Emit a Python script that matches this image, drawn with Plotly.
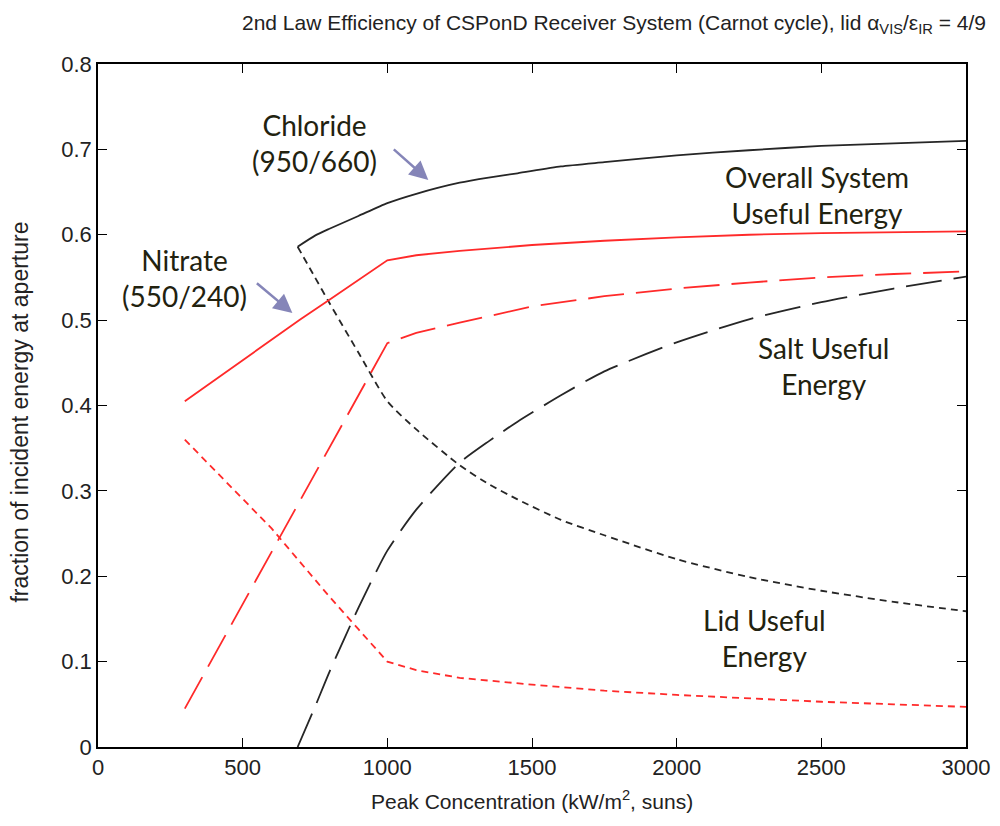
import plotly.graph_objects as go

# ---------------- data ----------------
nitrate_x = [300, 400, 500, 600, 700, 800, 900, 1000, 1100, 1250, 1500, 1750, 2000, 2250, 2500, 2750, 3000]
nitrate_overall = [0.405, 0.429, 0.453, 0.478, 0.501, 0.524, 0.547, 0.570, 0.576, 0.581, 0.588, 0.593, 0.597, 0.600, 0.602, 0.603, 0.604]
nitrate_salt = [0.045, 0.106, 0.167, 0.228, 0.289, 0.350, 0.411, 0.473, 0.485, 0.497, 0.516, 0.528, 0.537, 0.544, 0.550, 0.554, 0.557]
nitrate_lid = [0.360, 0.325, 0.290, 0.256, 0.216, 0.176, 0.138, 0.100, 0.090, 0.081, 0.073, 0.066, 0.061, 0.057, 0.053, 0.050, 0.047]

chloride_x = [690, 750, 800, 900, 1000, 1100, 1250, 1350, 1450, 1600, 1750, 2000, 2250, 2500, 2750, 3000]
chloride_overall = [0.586, 0.599, 0.607, 0.622, 0.637, 0.648, 0.661, 0.667, 0.672, 0.680, 0.685, 0.693, 0.699, 0.704, 0.707, 0.710]
chloride_salt = [0.000, 0.047, 0.088, 0.163, 0.230, 0.278, 0.333, 0.358, 0.381, 0.412, 0.440, 0.474, 0.501, 0.521, 0.537, 0.551]
chloride_lid = [0.586, 0.550, 0.520, 0.462, 0.405, 0.372, 0.330, 0.308, 0.290, 0.266, 0.248, 0.220, 0.199, 0.183, 0.170, 0.159]

x_ticks = [0, 500, 1000, 1500, 2000, 2500, 3000]
y_ticks = [0, 0.1, 0.2, 0.3, 0.4, 0.5, 0.6, 0.7, 0.8]

TITLE = "2nd Law Efficiency of CSPonD Receiver System (Carnot cycle), lid \u03b1<sub>VIS</sub>/\u03b5<sub>IR</sub> = 4/9"
XLABEL = "Peak Concentration (kW/m<sup>2</sup>, suns)"
YLABEL = "fraction of incident energy at aperture"

# ---------------- styles ----------------
RED = "#ff2a2a"
BLACK = "#262626"
LW = 1.8
SOLID = "solid"
DASH = "36px,12px"
DOT = "7px,5px"
AX_FONT = "Liberation Sans Narrow, Liberation Sans, Arial, sans-serif"
NOTE_FONT = "Lato, Carlito, Calibri, sans-serif"
NOTE_COLOR = "#22220f"
ARROW_COLOR = "#8585b8"
TXT = "#222"

fig = go.Figure()
series = [
    (chloride_x, chloride_lid, BLACK, DOT, "spline"),
    (chloride_x, chloride_salt, BLACK, DASH, "spline"),
    (chloride_x, chloride_overall, BLACK, SOLID, "spline"),
    (nitrate_x, nitrate_lid, RED, DOT, "linear"),
    (nitrate_x, nitrate_salt, RED, DASH, "linear"),
    (nitrate_x, nitrate_overall, RED, SOLID, "linear"),
]
for xs, ys, col, dash, shape in series:
    fig.add_trace(go.Scatter(x=xs, y=ys, mode="lines",
                             line=dict(color=col, width=LW, dash=dash, shape=shape, smoothing=0.6),
                             showlegend=False, hoverinfo="skip"))

axis_common = dict(showgrid=False, zeroline=False, showline=True, linecolor="black",
                   linewidth=1.5, mirror="ticks", ticks="inside", ticklen=9,
                   tickwidth=1.2, tickcolor="black", automargin=False,
                   tickfont=dict(family=AX_FONT, size=22, color=TXT))

# the page body adds an 8px offset; margins chosen so the plot area lands at
# screen x 97.5..966, y 64..747
fig.update_layout(
    width=1000, height=826,
    paper_bgcolor="white", plot_bgcolor="white",
    margin=dict(l=89.5, r=42, t=56, b=87),
    xaxis=dict(range=[0, 3000], tickvals=x_ticks, **axis_common),
    yaxis=dict(range=[0, 0.8], tickvals=y_ticks, ticktext=[f"{v:g}" for v in y_ticks],
               **axis_common),
)


def px(xp, yp):
    return (xp - 97.5) / 868.5, (747 - yp) / 683


# title and axis titles
tx, ty = px(240, 24)
fig.add_annotation(text=TITLE, xref="paper", yref="paper", x=tx, y=ty,
                   xanchor="left", yanchor="middle", showarrow=False,
                   font=dict(family=AX_FONT, size=21, color=TXT))
lx, ly = px(532, 800)
fig.add_annotation(text=XLABEL, xref="paper", yref="paper", x=lx, y=ly,
                   xanchor="center", yanchor="middle", showarrow=False,
                   font=dict(family=AX_FONT, size=21, color=TXT))
lx, ly = px(19, 412)
fig.add_annotation(text=YLABEL, xref="paper", yref="paper", x=lx, y=ly, textangle=-90,
                   xanchor="center", yanchor="middle", showarrow=False,
                   font=dict(family=AX_FONT, size=23, color=TXT))

notes = [
    ("Chloride<br>(950/660)", 314, 143),
    ("Nitrate<br>(550/240)", 184, 278),
    ("Overall System<br>Useful Energy", 817, 195),
    ("Salt Useful<br>Energy", 823, 366),
    ("Lid Useful<br>Energy", 764, 638),
]
for txt, xp, yp in notes:
    x, y = px(xp, yp)
    fig.add_annotation(text=txt, xref="paper", yref="paper", x=x, y=y,
                       xanchor="center", yanchor="middle", showarrow=False,
                       font=dict(family=NOTE_FONT, size=28, color=NOTE_COLOR))

arrows = [((428, 180), (392, 148)), ((292, 313), (255, 282))]
for (hx, hy), (tx, ty) in arrows:
    x, y = px(hx, hy)
    fig.add_annotation(text="", xref="paper", yref="paper", x=x, y=y,
                       ax=tx - hx, ay=ty - hy, showarrow=True, arrowhead=2,
                       arrowsize=1.5, arrowwidth=2.5, arrowcolor=ARROW_COLOR)

fig.write_html("out.html")
